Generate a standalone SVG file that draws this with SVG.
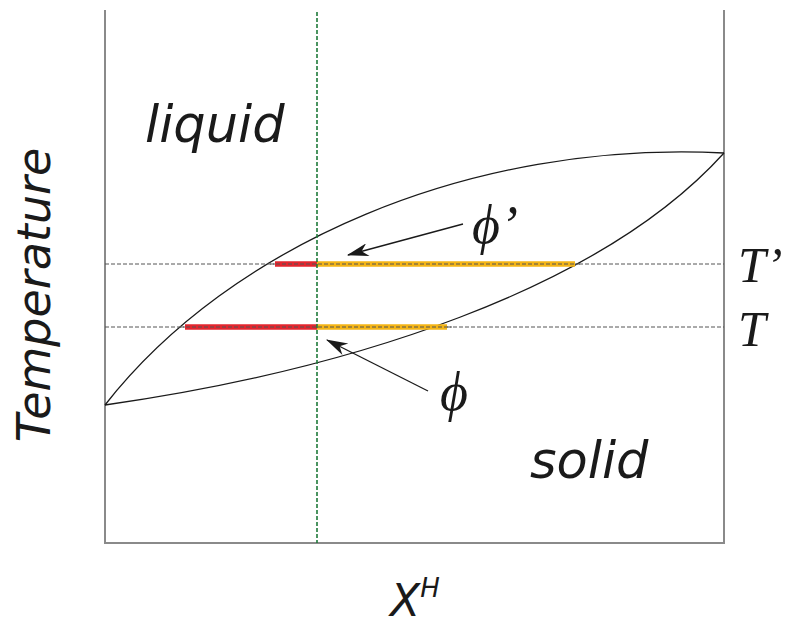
<svg xmlns="http://www.w3.org/2000/svg" width="793" height="628" viewBox="0 0 793 628">
<defs>
<style>
.frame{stroke:#8a8a8a;stroke-width:2;fill:none}
.curve{stroke:#1a1a1a;stroke-width:1.3;fill:none}
.dash{stroke:#555;stroke-width:1;stroke-dasharray:4 2;fill:none}
.green{stroke:#1e7a3a;stroke-width:1.6;stroke-dasharray:4 2;fill:none}
.red{stroke:#e3262e;stroke-width:5.5;fill:none}
.orange{stroke:#f4b516;stroke-width:5.5;fill:none}
.arr{stroke:#1a1a1a;stroke-width:1.3;fill:none}
.sans{font-family:"DejaVu Sans","Liberation Sans",sans-serif;font-style:oblique;fill:#1a1a1a}
.serif{font-family:"Liberation Serif","DejaVu Serif",serif;font-style:italic;fill:#1a1a1a}
</style>
<marker id="ah2" viewBox="0 0 20 12" refX="19" refY="6" markerWidth="24" markerHeight="13" orient="auto" markerUnits="userSpaceOnUse">
<path d="M0,0 L20,6 L0,12 L6,6 Z" fill="#1a1a1a"/>
</marker>
</defs>
<g id="frame">
<path class="frame" d="M105,10 V543 H724 V10"/>
</g>
<g id="connectors">
<path id="liquidus" class="curve" d="M105,405 C230,245 470,140 724,153"/>
<path id="solidus" class="curve" d="M105,405 C350,370 600,290 724,153"/>
<path class="dash" d="M105,264 H724"/>
<path class="dash" d="M105,327 H724"/>
<path class="red" d="M275,264 H317"/>
<path class="orange" d="M317,264 H575"/>
<path class="red" d="M185,327 H317"/>
<path class="orange" d="M317,327 H447"/>
<path class="dash" d="M270,264 H580"/>
<path class="dash" d="M180,327 H452"/>
<path class="green" d="M317,12 V543"/>
<path class="arr" d="M463,224 L348,255" marker-end="url(#ah2)"/>
<path class="arr" d="M428,391 L327,340" marker-end="url(#ah2)"/>
</g>
<g id="labels">
<text class="sans" x="145" y="142" font-size="51">liquid</text>
<text class="sans" x="530" y="478" font-size="51">solid</text>
<text class="sans" font-size="46" transform="translate(50,295) rotate(-90)" text-anchor="middle">Temperature</text>
<text class="sans" x="390" y="616" font-size="44">X<tspan font-size="26" dy="-19">H</tspan></text>
<text class="serif" x="738" y="282" font-size="50">T’</text>
<text class="serif" x="738" y="346" font-size="50">T</text>
<text class="serif" x="472" y="243" font-size="54">ϕ’</text>
<text class="serif" x="440" y="410" font-size="54">ϕ</text>
</g>
</svg>
